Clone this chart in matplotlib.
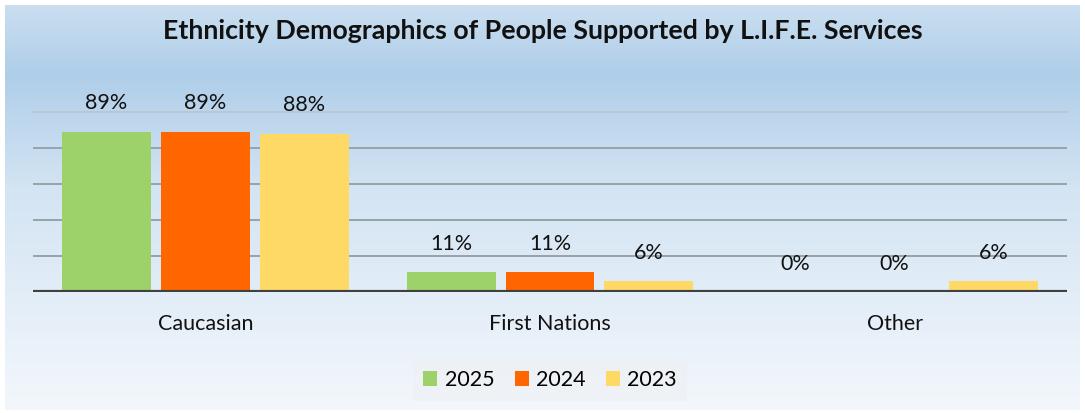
import numpy as np
import matplotlib.pyplot as plt
from matplotlib.colors import LinearSegmentedColormap
from matplotlib.patches import Patch

plt.rcParams['font.family'] = ['Lato', 'DejaVu Sans']

categories = ['Caucasian', 'First Nations', 'Other']
years = ['2025', '2024', '2023']
values_2025 = [89, 11, 0]
values_2024 = [89, 11, 0]
values_2023 = [88, 6, 6]
colors = ['#9dd16a', '#ff6600', '#ffd966']

W, H = 1085, 413
fig = plt.figure(figsize=(W / 100, H / 100), dpi=100)
fig.patch.set_facecolor('white')

# gradient backdrop of the chart area
bg = fig.add_axes([5 / W, 3 / H, 1 - 10 / W, 1 - 8 / H], zorder=-5)
grad = LinearSegmentedColormap.from_list(
    'bgfade', [(0, '#f3f7fc'), (0.55, '#d3e4f3'), (0.83, '#afcee9'), (1, '#cadef0')])
bg.imshow(np.linspace(0, 1, 256)[:, None], aspect='auto', cmap=grad,
          origin='lower', extent=[0, 1, 0, 1])
bg.set_axis_off()

ax = fig.add_axes([33 / W, (H - 292) / H, (1067 - 33) / W, 180 / H])
ax.patch.set_alpha(0)

x = np.arange(len(categories))
width = 0.258
step = 0.287
series = [values_2025, values_2024, values_2023]
for i, (yr, vals, c) in enumerate(zip(years, series, colors)):
    pos = x + (i - 1) * step
    ax.bar(pos, vals, width, color=c, label=yr, zorder=3)
    for px, v in zip(pos, vals):
        ax.annotate('{}%'.format(v), (px, v), xytext=(0, 20.5),
                    textcoords='offset points', ha='center', va='center',
                    fontsize=15.5, color='#111111')

ax.set_xlim(-0.5, 2.5)
ax.set_ylim(0, 100)
for g in [20, 40, 60, 80]:
    ax.axhline(g, color='#98a2ab', lw=1.4, zorder=1)
ax.axhline(100, color='#bcc6d0', lw=1.4, zorder=1, clip_on=False)
ax.axhline(0, color='#404040', lw=3, zorder=4)

for s in ax.spines.values():
    s.set_visible(False)
ax.set_yticks([])
ax.set_xticks(x)
ax.set_xticklabels(categories, fontsize=15.5, color='#111111')
ax.tick_params(axis='x', length=0, pad=16)

fig.text(0.5, 1 - 31 / H, 'Ethnicity Demographics of People Supported by L.I.F.E. Services',
         ha='center', va='center', fontsize=19.3, fontweight='bold', color='#111111')

handles = [Patch(facecolor=c, label=y) for y, c in zip(years, colors)]
leg = fig.legend(handles=handles, loc='center', bbox_to_anchor=(550 / W, 1 - 380 / H),
                 ncol=3, frameon=True, fontsize=15.5, handlelength=0.65,
                 handleheight=0.65, handletextpad=0.33, columnspacing=0.95,
                 borderpad=0.5, borderaxespad=0, fancybox=False)
leg.get_frame().set_facecolor('#eef1f4')
leg.get_frame().set_edgecolor('none')
leg.get_frame().set_alpha(0.8)

fig.savefig('out.png', dpi=100)
